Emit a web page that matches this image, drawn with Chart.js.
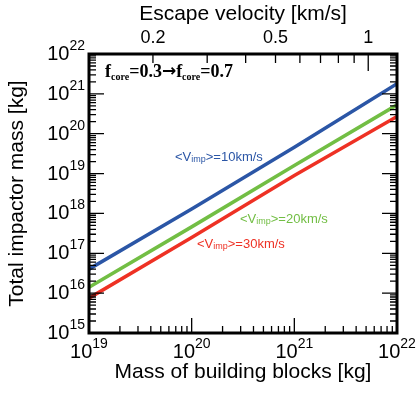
<!DOCTYPE html>
<html>
<head>
<meta charset="utf-8">
<script src="https://cdn.jsdelivr.net/npm/chart.js@4"></script>
<style>
  html, body { margin: 0; padding: 0; background: #fff; }
  #wrap { width: 416px; height: 397px; position: relative; }
</style>
</head>
<body>
<div id="wrap"><canvas id="c"></canvas></div>
<script>
// values
const buildingMass = [1e19, 1e20, 1e21, 1e22];
const impactorMass10 = [4.0e16, 1.3e18, 4.6e19, 1.8e21];
const impactorMass20 = [1.4e16, 4.6e17, 1.6e19, 5.3e20];
const impactorMass30 = [7.5e15, 2.5e17, 9.0e18, 2.7e20];

const seriesNames = ['=10km/s', '=20km/s', '=30km/s'];
const seriesColors = ['#2b56a6', '#72be44', '#ee3124'];

const xExponents = [19, 20, 21, 22];
const yExponents = [15, 16, 17, 18, 19, 20, 21, 22];
const velTicks = [0.2, 0.3, 0.4, 0.5, 0.6, 0.7, 0.8, 0.9, 1];
const velLabels = ['0.2', '0.5', '1'];
const velMin = 0.124, velMax = 1.24;

const SANS = '"Liberation Sans", Arial, Helvetica, sans-serif';
const SERIF = '"Liberation Serif", "Times New Roman", serif';

function pts(ys) {
  return buildingMass.map((x, i) => ({x: x, y: ys[i]}));
}

function powLabel(ctx, exp, x, y, align) {
  // "10" with superscript exponent, y = baseline of "10"
  ctx.font = '20px ' + SANS;
  let wBase = ctx.measureText('10').width;
  ctx.font = '14px ' + SANS;
  let wExp = ctx.measureText(String(exp)).width;
  let total = wBase + wExp;
  let left = x;
  if (align === 'right') left = x - total;
  if (align === 'center') left = x - total / 2;
  ctx.textAlign = 'left';
  ctx.textBaseline = 'alphabetic';
  ctx.font = '20px ' + SANS;
  ctx.fillText('10', left, y);
  ctx.font = '14px ' + SANS;
  ctx.fillText(String(exp), left + wBase, y - 10);
}

function vimpLabel(ctx, text, x, y, color) {
  ctx.fillStyle = color;
  ctx.textAlign = 'left';
  ctx.textBaseline = 'alphabetic';
  ctx.font = '13px ' + SANS;
  ctx.fillText('<V', x, y);
  let w = ctx.measureText('<V').width;
  ctx.font = '9px ' + SANS;
  ctx.fillText('imp', x + w, y + 1);
  w += ctx.measureText('imp').width;
  ctx.font = '13px ' + SANS;
  ctx.fillText('>' + text, x + w, y);
}

const axesPlugin = {
  id: 'axesPlugin',
  afterDraw(chart) {
    const ctx = chart.ctx;
    const a = chart.chartArea;
    const xs = chart.scales.x, ys = chart.scales.y, vs = chart.scales.v;
    ctx.save();
    ctx.strokeStyle = '#000';
    ctx.fillStyle = '#000';

    // ticks, inward
    ctx.lineWidth = 1.3;
    ctx.beginPath();
    // y ticks, left and right
    for (let e = yExponents[0]; e <= yExponents[yExponents.length - 1]; e++) {
      for (let m = 1; m <= 9; m++) {
        let v = m * Math.pow(10, e);
        if (v > 1e22) break;
        let py = ys.getPixelForValue(v);
        let len = m === 1 ? 15 : 7;
        ctx.moveTo(a.left, py); ctx.lineTo(a.left + len, py);
        ctx.moveTo(a.right, py); ctx.lineTo(a.right - len, py);
      }
    }
    // x ticks, bottom
    for (let e = xExponents[0]; e <= xExponents[xExponents.length - 1]; e++) {
      for (let m = 1; m <= 9; m++) {
        let v = m * Math.pow(10, e);
        if (v > 1e22) break;
        let px = xs.getPixelForValue(v);
        let len = m === 1 ? 15 : 7;
        ctx.moveTo(px, a.bottom); ctx.lineTo(px, a.bottom - len);
      }
    }
    // velocity ticks, top
    velTicks.forEach(v => {
      let px = vs.getPixelForValue(v);
      let len = v === 1 ? 17 : 9;
      ctx.moveTo(px, a.top); ctx.lineTo(px, a.top + len);
    });
    ctx.stroke();

    // frame
    ctx.lineWidth = 3;
    ctx.strokeRect(a.left, a.top, a.right - a.left, a.bottom - a.top);

    // tick labels
    yExponents.forEach(e => {
      powLabel(ctx, e, a.left - 4, ys.getPixelForValue(Math.pow(10, e)) + 6, 'right');
    });
    xExponents.forEach(e => {
      powLabel(ctx, e, xs.getPixelForValue(Math.pow(10, e)), a.bottom + 25, 'center');
    });
    ctx.font = '18px ' + SANS;
    ctx.textAlign = 'center';
    ctx.textBaseline = 'alphabetic';
    velLabels.forEach(l => {
      ctx.fillText(l, vs.getPixelForValue(parseFloat(l)), 43);
    });

    // axis titles
    ctx.font = '21px ' + SANS;
    ctx.textAlign = 'center';
    ctx.fillText('Mass of building blocks [kg]', (a.left + a.right) / 2, 378);
    ctx.fillText('Escape velocity [km/s]', (a.left + a.right) / 2, 20);
    ctx.save();
    ctx.translate(23, (a.top + a.bottom) / 2);
    ctx.rotate(-Math.PI / 2);
    ctx.fillText('Total impactor mass [kg]', 0, 0);
    ctx.restore();

    // f_core note
    let x = 105, y = 77;
    ctx.textAlign = 'left';
    const parts = [
      ['f', 'bold 18px ' + SERIF, 0], ['core', 'bold 10px ' + SERIF, 3],
      ['=0.3', 'bold 18px ' + SERIF, 0], ['\u2192', 'bold 17px "DejaVu Sans", sans-serif', -1],
      ['f', 'bold 18px ' + SERIF, 0], ['core', 'bold 10px ' + SERIF, 3],
      ['=0.7', 'bold 18px ' + SERIF, 0]
    ];
    parts.forEach(p => {
      ctx.font = p[1];
      ctx.fillText(p[0], x, y + p[2]);
      x += ctx.measureText(p[0]).width;
    });

    // series labels
    vimpLabel(ctx, seriesNames[0], 175, 161, seriesColors[0]);
    vimpLabel(ctx, seriesNames[1], 240, 223, seriesColors[1]);
    vimpLabel(ctx, seriesNames[2], 197, 248, seriesColors[2]);
    ctx.restore();
  }
};

const ctx = document.getElementById('c').getContext('2d');
new Chart(ctx, {
  type: 'line',
  data: {
    datasets: [
      {data: pts(impactorMass10), borderColor: seriesColors[0]},
      {data: pts(impactorMass20), borderColor: seriesColors[1]},
      {data: pts(impactorMass30), borderColor: seriesColors[2]}
    ].map(d => Object.assign(d, {borderWidth: 3.5, pointRadius: 0, fill: false, tension: 0}))
  },
  options: {
    responsive: true,
    maintainAspectRatio: false,
    animation: false,
    events: [],
    layout: {padding: {left: 89, right: 19, top: 54, bottom: 64}},
    plugins: {legend: {display: false}, tooltip: {enabled: false}},
    scales: {
      x: {type: 'logarithmic', min: 1e19, max: 1e22, display: false},
      y: {type: 'logarithmic', min: 1e15, max: 1e22, display: false},
      v: {type: 'logarithmic', axis: 'x', position: 'top', min: velMin, max: velMax, display: false}
    }
  },
  plugins: [axesPlugin]
});
</script>
</body>
</html>
